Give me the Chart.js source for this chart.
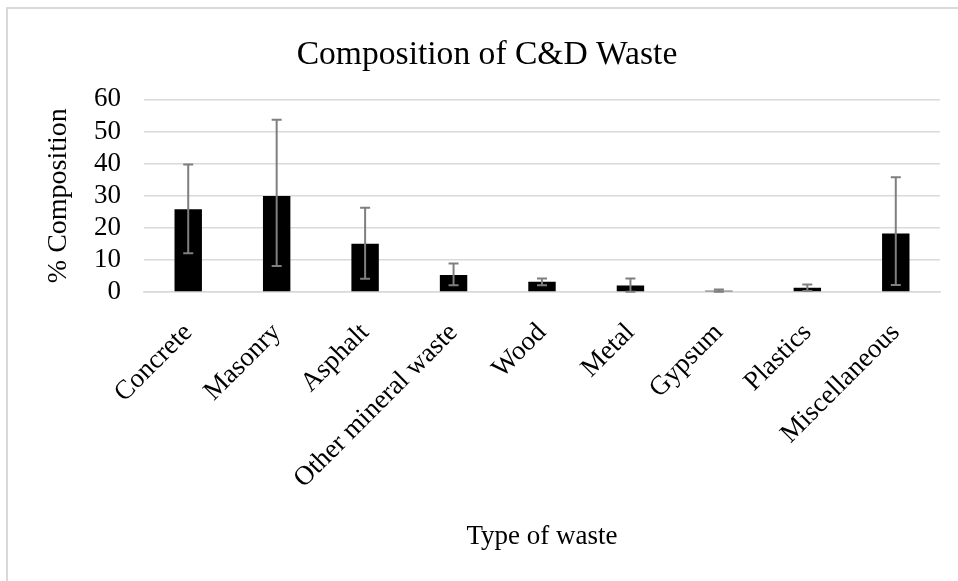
<!DOCTYPE html>
<html>
<head>
<meta charset="utf-8">
<script src="https://cdn.jsdelivr.net/npm/chart.js@4/dist/chart.umd.min.js"></script>
<style>
    html, body { margin: 0; padding: 0; background: #fff; overflow: hidden; }
    #frame { position: absolute; left: 6px; top: 7px; width: 1200px; height: 900px;
             border: 2px solid #d9d9d9; box-sizing: border-box; }
    #wrap { position: absolute; left: 0; top: 0; width: 958px; height: 581px; }
</style>
</head>
<body>
<div id="frame"></div>
<div id="wrap"><canvas id="chart" width="958" height="581"></canvas></div>
<script>
// données
const categories = [ "Concrete", "Masonry", "Asphalt", "Other mineral waste", "Wood",
    "Metal", "Gypsum", "Plastics", "Miscellaneous" ]
const composition = [ 25.8, 29.9, 15.0, 5.3, 3.2, 2.0, 0.4, 1.3, 18.2 ]
// barres d'erreur : écart au-dessus / en dessous
const errPlus = [ 13.9, 23.7, 11.2, 3.6, 1.0, 2.2, 0.35, 1.0, 17.5 ]
const errMinus = [ 13.7, 21.8, 10.9, 3.2, 1.1, 1.9, 0.3, 1.0, 16.0 ]
const yTicks = [ 0, 10, 20, 30, 40, 50, 60 ]

const SERIF = "'Liberation Serif', 'Times New Roman', serif"

/** barres d'erreur dessinées avec les échelles du graphe */
const errorBars = {
    id: 'errorBars',
    afterDatasetsDraw( chart ) {
        const ctx = chart.ctx
        const x = chart.scales.x
        const y = chart.scales.y
        ctx.save()
        ctx.strokeStyle = '#7f7f7f'
        ctx.lineWidth = 2
        composition.forEach( ( v, i ) => {
            const px = x.getPixelForValue( i )
            const top = y.getPixelForValue( v + errPlus[ i ] )
            const bot = y.getPixelForValue( Math.max( v - errMinus[ i ], 0 ) )
            ctx.beginPath()
            ctx.moveTo( px, top ); ctx.lineTo( px, bot )
            ctx.moveTo( px - 5, top ); ctx.lineTo( px + 5, top )
            ctx.moveTo( px - 5, bot ); ctx.lineTo( px + 5, bot )
            ctx.stroke()
        } )
        ctx.restore()
    }
}

new Chart( document.getElementById( 'chart' ), {
    type: 'bar',
    data: {
        labels: categories,
        datasets: [ {
            label: '% Composition',
            data: composition,
            backgroundColor: '#000000',
            categoryPercentage: 1,
            barPercentage: 0.31,
        } ]
    },
    options: {
        responsive: false,
        animation: false,
        layout: { padding: { left: 34, right: 18, top: 0, bottom: 0 } },
        plugins: {
            legend: { display: false },
            tooltip: { enabled: false },
            title: {
                display: true,
                text: 'Composition of C&D Waste',
                color: '#000',
                font: { family: SERIF, size: 33.6, weight: 'normal' },
                padding: { top: 35, bottom: 24 }
            }
        },
        scales: {
            x: {
                grid: { display: false },
                border: { color: '#d9d9d9', width: 1.5 },
                ticks: {
                    autoSkip: false, maxRotation: 45, minRotation: 45,
                    color: '#000', padding: 17,
                    font: { family: SERIF, size: 27 }
                },
                title: {
                    display: true, text: 'Type of waste', color: '#000',
                    font: { family: SERIF, size: 27 },
                    padding: { top: 0, bottom: 28 }
                },
                afterFit( scale ) { scale.height = 289 }
            },
            y: {
                min: 0, max: 60,
                afterBuildTicks( scale ) { scale.ticks = yTicks.map( v => ( { value: v } ) ) },
                grid: { color: '#d9d9d9', lineWidth: 1.5, drawTicks: false },
                border: { display: false },
                ticks: {
                    autoSkip: false,
                    color: '#000', padding: 23,
                    font: { family: SERIF, size: 27, lineHeight: 1 }
                },
                title: {
                    display: true, text: '% Composition', color: '#000',
                    font: { family: SERIF, size: 28 },
                    padding: { top: 8, bottom: 0 }
                },
                afterFit( scale ) { scale.width = 110 }
            }
        }
    },
    plugins: [ errorBars ]
} )
</script>
</body>
</html>
